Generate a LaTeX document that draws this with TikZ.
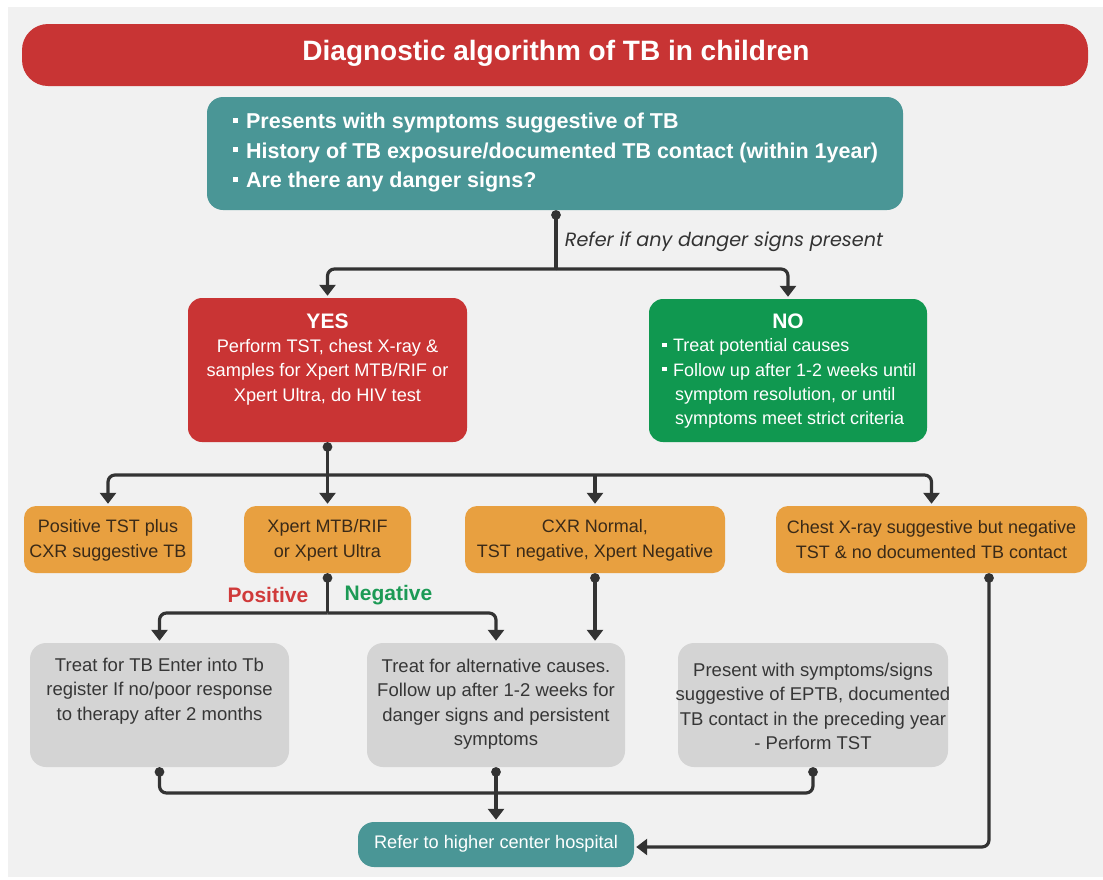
\documentclass[tikz,border=0pt]{standalone}
\usepackage{fontspec}
\setmainfont{Liberation Sans}
\newfontfamily\notefont{Poppins}
\usetikzlibrary{arrows.meta}

\definecolor{pagebg}{HTML}{F1F1F1}
\definecolor{titlered}{HTML}{C83434}
\definecolor{tealbox}{HTML}{4A9696}
\definecolor{yesred}{HTML}{C93434}
\definecolor{nogreen}{HTML}{109850}
\definecolor{orangebox}{HTML}{E8A040}
\definecolor{greybox}{HTML}{D4D4D4}
\definecolor{linkcol}{HTML}{333333}
\definecolor{browntext}{HTML}{3A2A18}
\definecolor{greytext}{HTML}{363636}
\definecolor{posred}{HTML}{D03A3A}
\definecolor{neggreen}{HTML}{1C9A55}

% small square bullet
\newcommand\sqbul{\rule[0.27em]{0.24em}{0.24em}\hspace{0.36em}}

\begin{document}
\begin{tikzpicture}[x=1pt, y=-1pt,
  box/.style={rectangle, rounded corners=#1, inner sep=0pt},
  box/.default=12pt,
  txt/.style={inner sep=0pt, align=center},
  link/.style={draw=linkcol, line width=3.2pt, rounded corners=7pt},
  tip/.style={-{Triangle[length=11pt,width=16pt]}, shorten >=2pt},
  dottip/.style={{Circle[length=9.5pt]}-{Triangle[length=11pt,width=16pt]}, shorten >=2pt},
  dotstart/.style={{Circle[length=9.5pt]}-},
  dotboth/.style={{Circle[length=9.5pt]}-{Circle[length=9.5pt]}},
  orange/.style={box=12pt, fill=orangebox, minimum height=67},
  grey/.style={box=16pt, fill=greybox, minimum height=124},
  otext/.style={txt, text=browntext, font=\fontsize{18}{25}\selectfont},
  gtext/.style={txt, text=greytext, font=\fontsize{18.5}{24.5}\selectfont},
]
\useasboundingbox (0,0) rectangle (1103,879);
\fill[white] (0,0) rectangle (1103,879);
\fill[pagebg] (8,7) rectangle (1103,877);

% title bar
\node[box=26pt, fill=titlered, minimum width=1066, minimum height=62] (title) at (555,55) {};
\node[txt, text=white, font=\fontsize{28}{32}\selectfont\bfseries] (titletext) at (556,53) {Diagnostic algorithm of TB in children};

% entry question box
\node[box=16pt, fill=tealbox, minimum width=696, minimum height=113] (ask) at (555,153.5) {};
\node[inner sep=0pt, align=left, anchor=west, text=white, font=\fontsize{21.5}{29.5}\selectfont\bfseries] (asktext) at (233,152.5)
  {\sqbul Presents with symptoms suggestive of TB\\
   \sqbul History of TB exposure/documented TB contact (within 1year)\\
   \sqbul Are there any danger signs?};

% YES / NO
\node[box=14pt, fill=yesred, minimum width=279, minimum height=144] (yes) at (327.5,370) {};
\node[txt, text=white, font=\fontsize{21}{24}\selectfont\bfseries] (yeshead) at (327.5,321) {YES};
\node[txt, text=white, font=\fontsize{18.2}{24.5}\selectfont] (yesbody) at (327.5,372)
  {Perform TST, chest X-ray \&\\samples for Xpert MTB/RIF or\\Xpert Ultra, do HIV test};

\node[box=14pt, fill=nogreen, minimum width=278, minimum height=143] (no) at (788,370.5) {};
\node[txt, text=white, font=\fontsize{21}{24}\selectfont\bfseries] (nohead) at (788,321) {NO};
\node[inner sep=0pt, align=left, anchor=west, text=white, font=\fontsize{18}{24.3}\selectfont] (nobody) at (662,383.5)
  {\sqbul Treat potential causes\\
   \sqbul Follow up after 1-2 weeks until\\
   \hspace*{13pt}symptom resolution, or until\\
   \hspace*{13pt}symptoms meet strict criteria};

% test outcomes
\node[orange, minimum width=168] (o1) at (108,539.5) {};
\node[otext] (o1t) at (108,540) {Positive TST plus\\CXR suggestive TB};
\node[orange, minimum width=167] (o2) at (327.5,539.5) {};
\node[otext] (o2t) at (327.5,540) {Xpert MTB/RIF\\or Xpert Ultra};
\node[orange, minimum width=260] (o3) at (595,539.5) {};
\node[otext] (o3t) at (595,540) {CXR Normal,\\TST negative, Xpert Negative};
\node[orange, minimum width=311] (o4) at (931.5,539.5) {};
\node[otext] (o4t) at (931.5,540) {Chest X-ray suggestive but negative\\TST \& no documented TB contact};

% management boxes
\node[grey, minimum width=259] (g1) at (159.5,705) {};
\node[gtext] (g1t) at (159.5,691) {Treat for TB Enter into Tb\\register If no/poor response\\to therapy after 2 months};
\node[grey, minimum width=258] (g2) at (496,705) {};
\node[gtext] (g2t) at (496,704) {Treat for alternative causes.\\Follow up after 1-2 weeks for\\danger signs and persistent\\symptoms};
\node[grey, minimum width=270] (g3) at (813,705) {};
\node[gtext] (g3t) at (813,706.5) {Present with symptoms/signs\\suggestive of EPTB, documented\\TB contact in the preceding year\\- Perform TST};

% referral
\node[box=16pt, fill=tealbox, minimum width=276, minimum height=45] (refer) at (496,844.5) {};
\node[txt, text=white, font=\fontsize{18.2}{22}\selectfont] (refertext) at (496,844) {Refer to higher center hospital};

% branch labels
\node[txt, text=linkcol, font=\fontsize{19.2}{22}\selectfont\notefont\itshape] (dangerlbl) at (724,242) {Refer if any danger signs present};
\node[txt, text=posred, font=\fontsize{21}{24}\selectfont\bfseries] (poslbl) at (268,595) {Positive};
\node[txt, text=neggreen, font=\fontsize{21}{24}\selectfont\bfseries] (neglbl) at (388.5,595) {Negative};

% junction points
\coordinate (j1) at (556,269);
\coordinate (j2) at (327.5,475);
\coordinate (j3) at (327.5,613);
\coordinate (j4) at (496,793);
\coordinate (rl) at (989,847);

% connectors
\draw[link, dotstart] (ask.south -| j1) -- (j1);
\draw[link, tip] (j1) -| (yes.north);
\draw[link, tip] (j1) -| (no.north);

\draw[link, dotstart] (yes.south) -- (j2);
\draw[link, tip] (j2) -| (o1.north);
\draw[link, tip] (j2) -- (o2.north);
\draw[link, tip] (j2) -| (o4.north);
\draw[link, tip] (o3.north |- j2) -- (o3.north);

\draw[link, dotstart] (o2.south) -- (j3);
\draw[link, tip] (j3) -| (g1.north);
\draw[link, tip] (j3) -| (g2.north);

\draw[link, dottip] (o3.south) -- (o3.south |- g2.north);

\draw[link, dottip] (o4.south -| rl) -- (rl) -- (refer.east |- rl);

\draw[link, dotboth] (g1.south) -- (g1.south |- j4) -- (g3.south |- j4) -- (g3.south);
\draw[link, dottip] (g2.south) -- (refer.north);
\end{tikzpicture}
\end{document}
